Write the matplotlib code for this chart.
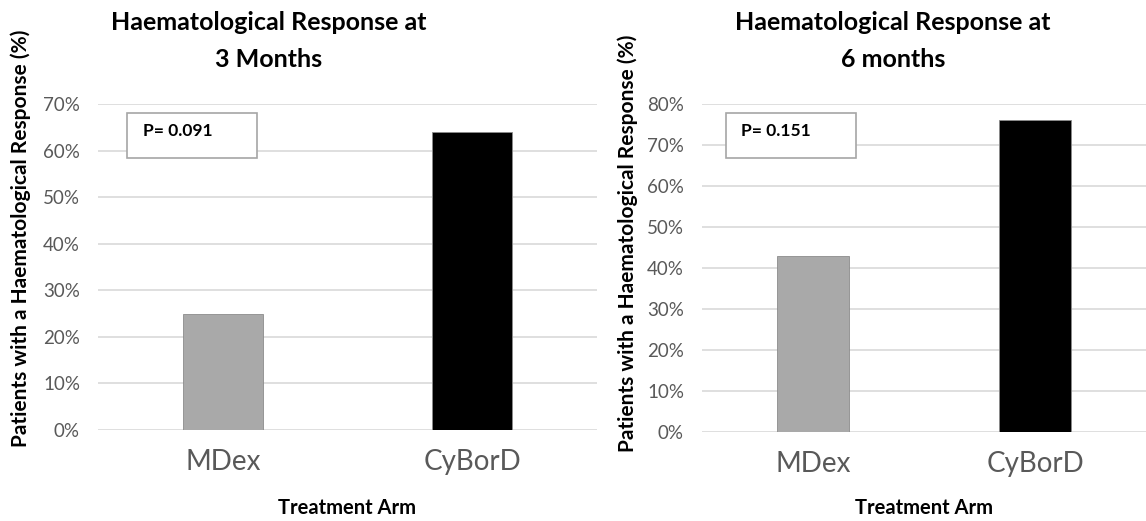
import matplotlib
matplotlib.use('Agg')
import matplotlib.pyplot as plt
from matplotlib.patches import Rectangle

# data
arms = ['MDex', 'CyBorD']
resp_3m = [25, 64]
resp_6m = [43, 76]
p_3m = 'P= 0.091'
p_6m = 'P= 0.151'
titles = ['Haematological Response at\n3 Months', 'Haematological Response at\n6 months']
bar_colors = ['#a9a9a9', '#000000']

plt.rcParams['font.family'] = ['Lato', 'DejaVu Sans']

fig = plt.figure(figsize=(11.46, 5.21), dpi=100)
W, H = 1146, 521


def px_axes(x0, x1, y_top, y_bot):
    return fig.add_axes([x0 / W, 1 - y_bot / H, (x1 - x0) / W, (y_bot - y_top) / H])


def draw_panel(ax, values, ymax, pval, box, xpad):
    ax.bar(range(len(arms)), values, width=0.32, color=bar_colors,
           edgecolor='#8c8c8c', linewidth=0.6, zorder=3)
    ax.set_xlim(-0.5, 1.5)
    ax.set_ylim(0, ymax)
    ax.set_yticks(range(0, ymax + 1, 10))
    ax.set_yticklabels(['{}%'.format(v) for v in range(0, ymax + 1, 10)],
                       fontsize=13.5, color='#595959')
    ax.set_xticks(range(len(arms)))
    ax.set_xticklabels(arms, fontsize=20, color='#595959')
    ax.tick_params(length=0)
    ax.tick_params(axis='y', pad=13)
    ax.tick_params(axis='x', pad=14)
    ax.grid(axis='y', color='#d9d9d9', linewidth=1.2, zorder=0)
    for s in ax.spines.values():
        s.set_visible(False)
    ax.set_xlabel('Treatment Arm', fontsize=14.5, fontweight='bold', labelpad=xpad)
    bx, by, bw, bh = box
    ax.add_patch(Rectangle((bx, by), bw, bh, transform=ax.transAxes,
                           facecolor='white', edgecolor='#a6a6a6', linewidth=1.2, zorder=4))
    ax.text(bx + 0.033, by + bh * 0.6, pval, transform=ax.transAxes, fontsize=12.5,
            fontweight='bold', va='center', ha='left', zorder=5)


ax1 = px_axes(98, 597, 104, 430)
draw_panel(ax1, resp_3m, 70, p_3m, (0.058, 0.834, 0.26, 0.138), 16)

ax2 = px_axes(702, 1146, 104, 432)
draw_panel(ax2, resp_6m, 80, p_6m, (0.054, 0.835, 0.293, 0.138), 15)

fig.text(269 / W, 1 - 41 / H, titles[0], ha='center', va='center', fontsize=18,
         fontweight='bold', linespacing=1.75)
fig.text(893 / W, 1 - 41 / H, titles[1], ha='center', va='center', fontsize=18,
         fontweight='bold', linespacing=1.75)

ylab = 'Patients with a Haematological Response (%)'
fig.text(21 / W, 1 - 238 / H, ylab, rotation=90, ha='center', va='center',
         fontsize=15, fontweight='bold')
fig.text(628 / W, 1 - 243 / H, ylab, rotation=90, ha='center', va='center',
         fontsize=15, fontweight='bold')

fig.savefig('out.png', dpi=100)
